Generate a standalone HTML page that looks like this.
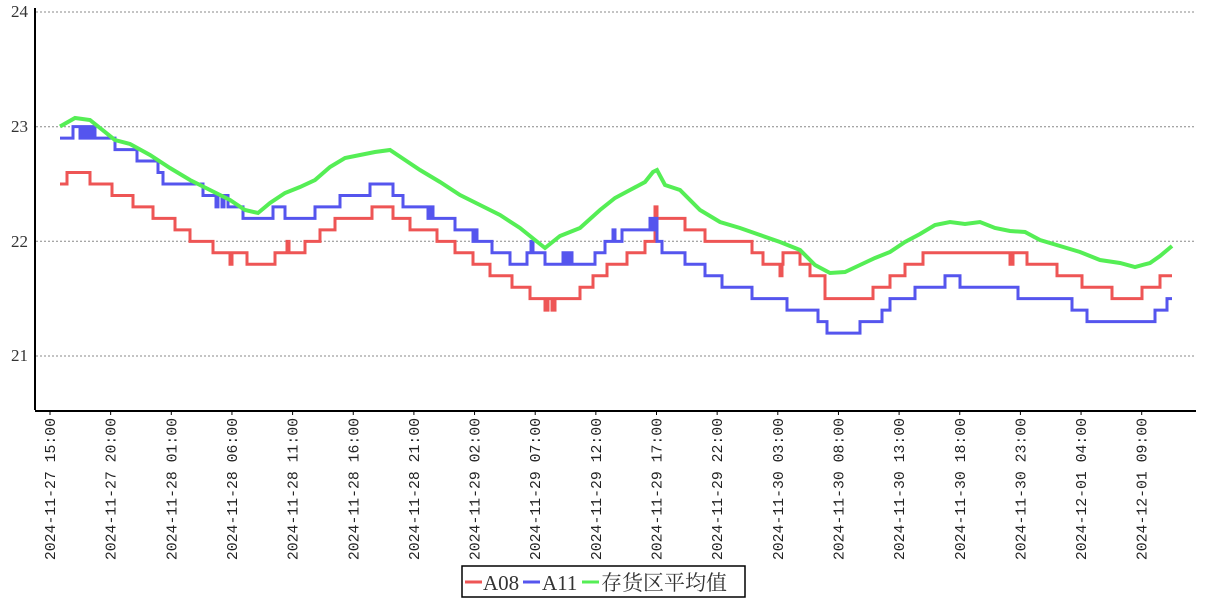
<!DOCTYPE html>
<html><head><meta charset="utf-8"><style>
html,body{margin:0;padding:0;background:#fff;width:1207px;height:600px;overflow:hidden}
svg{display:block}
text{font-family:"Liberation Serif","Noto Serif CJK SC",serif}
</style></head><body>
<svg id="s" width="1207" height="600" xmlns="http://www.w3.org/2000/svg">
<g stroke="#888" stroke-dasharray="2,2" stroke-width="1">
<line x1="36" y1="12" x2="1195" y2="12"/>
<line x1="36" y1="126.7" x2="1195" y2="126.7"/>
<line x1="36" y1="241.3" x2="1195" y2="241.3"/>
<line x1="36" y1="356" x2="1195" y2="356"/>
</g>
<line x1="35" y1="8" x2="35" y2="410" stroke="#000" stroke-width="2"/>
<line x1="35" y1="411" x2="1196" y2="411" stroke="#000" stroke-width="2"/>
<g font-size="17" fill="#333" text-anchor="end">
<text x="28" y="17">24</text><text x="28" y="132">23</text><text x="28" y="247">22</text><text x="28" y="361">21</text>
</g>
<g id="ticks"></g>
<g id="series" fill="none" stroke-width="3"></g>
<rect x="462" y="566" width="283" height="31" fill="#fff" stroke="#000" stroke-width="1.5"/>
<line x1="465" y1="582" x2="482" y2="582" stroke="#e55" stroke-width="3"/>
<text x="483" y="590" font-size="21" fill="#333">A08</text>
<line x1="523" y1="582" x2="540" y2="582" stroke="#55e" stroke-width="3"/>
<text x="542" y="590" font-size="21" fill="#333">A11</text>
<line x1="582" y1="582" x2="599" y2="582" stroke="#5e5" stroke-width="3"/>
<text x="601" y="590" font-size="21" fill="#333">存货区平均值</text>
</svg>
<script>
var NS="http://www.w3.org/2000/svg";
function Y(v){return 356-(v-21)*114.67;}
var labels=["2024-11-27 15:00","2024-11-27 20:00","2024-11-28 01:00","2024-11-28 06:00","2024-11-28 11:00","2024-11-28 16:00","2024-11-28 21:00","2024-11-29 02:00","2024-11-29 07:00","2024-11-29 12:00","2024-11-29 17:00","2024-11-29 22:00","2024-11-30 03:00","2024-11-30 08:00","2024-11-30 13:00","2024-11-30 18:00","2024-11-30 23:00","2024-12-01 04:00","2024-12-01 09:00"];
var tg=document.getElementById("ticks");
labels.forEach(function(l,i){var x=50+i*60.65;
var ln=document.createElementNS(NS,"line");ln.setAttribute("x1",x);ln.setAttribute("x2",x);ln.setAttribute("y1",411);ln.setAttribute("y2",415);ln.setAttribute("stroke","#000");tg.appendChild(ln);
var t=document.createElementNS(NS,"text");t.setAttribute("transform","translate("+(x+5)+",418) rotate(-90)");t.setAttribute("text-anchor","end");t.setAttribute("font-size","14.8");t.setAttribute("fill","#222");t.setAttribute("style","font-family:'Liberation Mono',monospace");t.textContent=l;tg.appendChild(t);});
function step(a){var d="M"+a[0][0]+","+Y(a[0][1]);for(var i=1;i<a.length;i++){d+=" H"+a[i][0]+" V"+Y(a[i][1]);}return d;}
var red=[[60,22.5],[67,22.6],[90,22.5],[112,22.4],[133,22.3],[153,22.2],[175,22.1],[190,22.0],[213,21.9],[230,21.8],[232,21.9],[247,21.8],[275,21.9],[287,22.0],[289,21.9],[305,22.0],[320,22.1],[335,22.2],[372,22.3],[393,22.2],[410,22.1],[437,22.0],[455,21.9],[473,21.8],[490,21.7],[512,21.6],[530,21.5],[545,21.4],[548,21.5],[552,21.4],[555,21.5],[580,21.6],[593,21.7],[607,21.8],[627,21.9],[645,22.0],[655,22.3],[657,22.2],[685,22.1],[705,22.0],[752,21.9],[763,21.8],[780,21.7],[782,21.8],[783,21.9],[800,21.8],[810,21.7],[825,21.5],[873,21.6],[890,21.7],[905,21.8],[923,21.9],[1010,21.8],[1013,21.9],[1027,21.8],[1057,21.7],[1082,21.6],[1112,21.5],[1142,21.6],[1160,21.7],[1172,21.7]];
var blue=[[60,22.9],[73,23.0],[80,22.9],[82,23.0],[85,22.9],[87,23.0],[90,22.9],[92,23.0],[95,22.9],[115,22.8],[137,22.7],[158,22.6],[163,22.5],[203,22.4],[216,22.3],[218,22.4],[222,22.3],[224,22.4],[228,22.3],[243,22.2],[273,22.3],[285,22.2],[315,22.3],[340,22.4],[370,22.5],[393,22.4],[403,22.3],[428,22.2],[430,22.3],[433,22.2],[435,22.2],[455,22.1],[473,22.0],[475,22.1],[477,22.0],[492,21.9],[510,21.8],[527,21.9],[531,22.0],[533,21.9],[545,21.8],[563,21.9],[566,21.8],[569,21.9],[572,21.8],[595,21.9],[605,22.0],[613,22.1],[615,22.0],[622,22.1],[650,22.2],[653,22.1],[655,22.2],[657,22.0],[662,21.9],[685,21.8],[705,21.7],[722,21.6],[752,21.5],[787,21.4],[818,21.3],[827,21.2],[860,21.3],[882,21.4],[890,21.5],[915,21.6],[945,21.7],[960,21.6],[1018,21.5],[1072,21.4],[1087,21.3],[1155,21.4],[1167,21.5],[1172,21.5]];
var gp=[[60,126.5],[75,118],[90,120],[100,128],[115,140],[130,144],[150,155],[170,168],[190,180],[210,190],[230,200],[245,210],[258,213],[270,203],[285,193],[300,187],[315,180],[330,167],[345,158],[360,155],[375,152],[390,150],[405,160],[420,170],[440,182],[460,195],[480,205],[500,215],[520,228],[535,240],[545,248],[560,236],[580,228],[600,210],[615,198],[630,190],[645,182],[653,172],[657,170],[665,185],[680,190],[700,210],[720,222],[740,228],[760,235],[780,242],[800,250],[815,265],[830,273],[845,272],[860,265],[875,258],[890,252],[905,242],[920,234],[935,225],[950,222],[965,224],[980,222],[995,228],[1010,231],[1025,232],[1040,240],[1060,246],[1080,252],[1100,260],[1120,263],[1135,267],[1150,263],[1160,256],[1172,246]];
var gd="M"+gp.map(function(p){return p[0]+","+p[1]}).join(" L");
var sg=document.getElementById("series");
[[step(red),"#e55"],[step(blue),"#55e"],[gd,"#5e5"]].forEach(function(s){var p=document.createElementNS(NS,"path");p.setAttribute("d",s[0]);p.setAttribute("stroke",s[1]);if(s[1]=="#5e5")p.setAttribute("stroke-width","4");sg.appendChild(p);});
</script>
</body></html>
